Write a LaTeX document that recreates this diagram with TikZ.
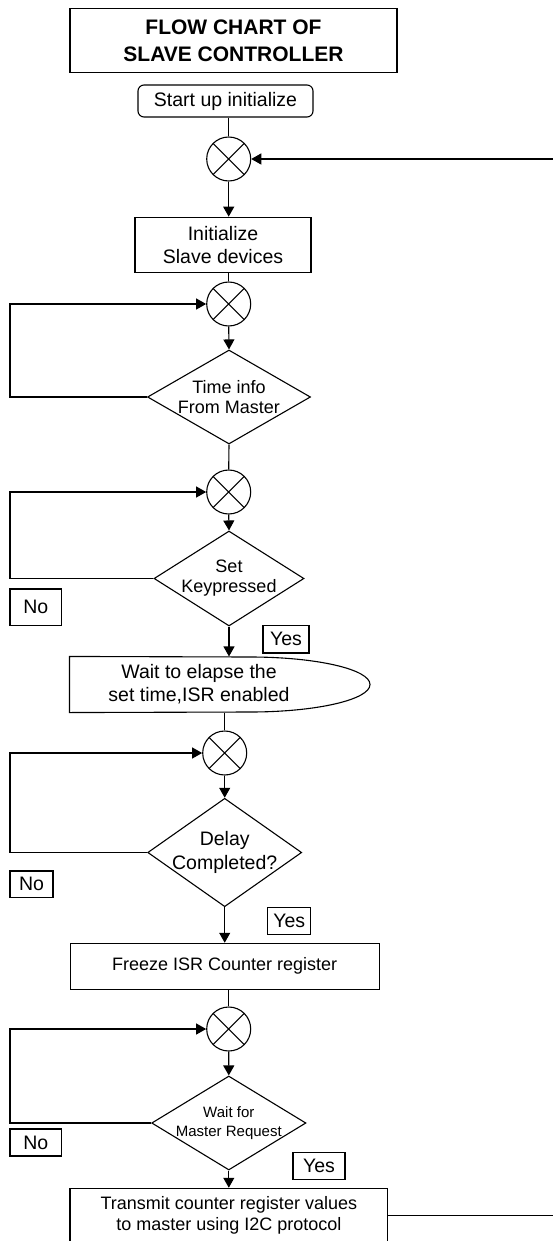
\documentclass[tikz,border=0pt]{standalone}
\usepackage{fontspec}
\setmainfont{Liberation Sans}
\usetikzlibrary{arrows.meta,shapes.geometric}
\tikzset{
  box/.style={draw, inner sep=0pt, align=center},
  tag/.style={box, font=\fontsize{19.5}{22}\selectfont},
  xc/.style={circle, draw, minimum size=44pt, inner sep=0pt,
    path picture={\draw (path picture bounding box.south west)--(path picture bounding box.north east)
      (path picture bounding box.north west)--(path picture bounding box.south east);}},
  dia/.style={diamond, draw, inner sep=0pt},
  dlbl/.style={align=center, inner sep=0pt}
}
\begin{document}
\begin{tikzpicture}[x=1pt, y=-1pt, line width=1.1pt, >={Triangle[length=10pt,width=11pt]},
  font=\fontsize{19.5}{23.3}\selectfont]
  \useasboundingbox (0,0) rectangle (553,1241);
  \coordinate (lx) at (10,0);
  \coordinate (rt) at (556,159);
  % boxes
  \node[box, minimum width=327pt, minimum height=64pt, font=\bfseries\fontsize{21}{27}\selectfont] (title) at (233.5,40.3) {FLOW CHART OF\\SLAVE CONTROLLER};
  \node[box, rounded corners=6pt, minimum width=175pt, minimum height=32pt] (start) at (225.5,101) {Start up initialize};
  \node[box, minimum width=176pt, minimum height=55pt] (init) at (223,244.7) {Initialize\\Slave devices};
  \node[align=center, inner sep=0pt, minimum width=258pt, minimum height=55pt] (wait) at (199,684.5) {Wait to elapse the\\set time,ISR enabled};
  \draw (wait.north west) -- (250,657) .. controls (316.3,657) and (370,669.3) .. (370,684.5)
    .. controls (370,699.7) and (316.3,712) .. (250,712) -- (wait.south west) -- cycle;
  \node[box, minimum width=309.3pt, minimum height=46pt, font=\fontsize{18}{21}\selectfont] (fr) at (224.7,966.3) {Freeze ISR Counter register};
  \node[box, minimum width=317.7pt, minimum height=54pt, font=\fontsize{18}{21.5}\selectfont] (tx) at (228.85,1215.3) {Transmit counter register values\\to master using I2C protocol};
  % junctions
  \node[xc] (c1) at (228.7,159) {};
  \node[xc] (c2) at (228.7,304) {};
  \node[xc] (c3) at (228.7,492) {};
  \node[xc] (c4) at (224.7,753) {};
  \node[xc] (c5) at (228.7,1029) {};
  % decisions
  \node[dia, minimum width=163pt, minimum height=94pt,
    label={[dlbl, font=\fontsize{18}{20}\selectfont]center:{Time info\\From Master}}] (d1) at (229,397) {};
  \node[dia, minimum width=150pt, minimum height=95pt,
    label={[dlbl, font=\fontsize{18}{20}\selectfont]center:{Set\\Keypressed}}] (d2) at (229,578.5) {};
  \node[dia, minimum width=154pt, minimum height=108.4pt,
    label={[dlbl, font=\fontsize{19.5}{24}\selectfont]center:{Delay\\Completed?}}] (d3) at (224.7,852.5) {};
  \node[dia, minimum width=154.3pt, minimum height=94pt,
    label={[dlbl, font=\fontsize{15}{18.7}\selectfont]center:{Wait for\\Master Request}}] (d4) at (228.8,1123) {};
  % yes / no tags
  \node[tag, minimum width=51.7pt, minimum height=36.7pt] (no1) at (35.8,607.3) {No};
  \node[tag, minimum width=46pt, minimum height=27.3pt] (yes1) at (286,639.3) {Yes};
  \node[tag, minimum width=43pt, minimum height=26.7pt] (no2) at (31.5,884.3) {No};
  \node[tag, minimum width=43pt, minimum height=27.3pt] (yes2) at (289.2,920.7) {Yes};
  \node[tag, minimum width=51.7pt, minimum height=27pt] (no3) at (35.8,1142.5) {No};
  \node[tag, minimum width=52pt, minimum height=26.7pt] (yes3) at (319,1166) {Yes};
  % flow
  \draw (c1 |- start.south) -- (c1.north);
  \draw[->] (c1.south) -- (c1.south |- init.north);
  \draw (c2 |- init.south) -- (c2.north);
  \draw[->] (c2.south) -- (d1.north);
  \draw (d1.south) -- (c3.north);
  \draw[->] (c3.south) -- (d2.north);
  \draw[->] (d2.south) -- (d2.south |- wait.north);
  \draw (c4 |- wait.south) -- (c4.north);
  \draw[->] (c4.south) -- (d3.north);
  \draw[->] (d3.south) -- (d3.south |- fr.north);
  \draw (c5 |- fr.south) -- (c5.north);
  \draw[->] (c5.south) -- (d4.north);
  \draw[->] (d4.south) -- (d4.south |- tx.north);
  \foreach \d/\c in {d1/c2,d2/c3,d3/c4,d4/c5}
    \draw[->] (\d.west) -- (\d.west -| lx) |- (\c.west);
  \draw[->] (tx.east) -| (rt) -- (c1.east);
\end{tikzpicture}
\end{document}
